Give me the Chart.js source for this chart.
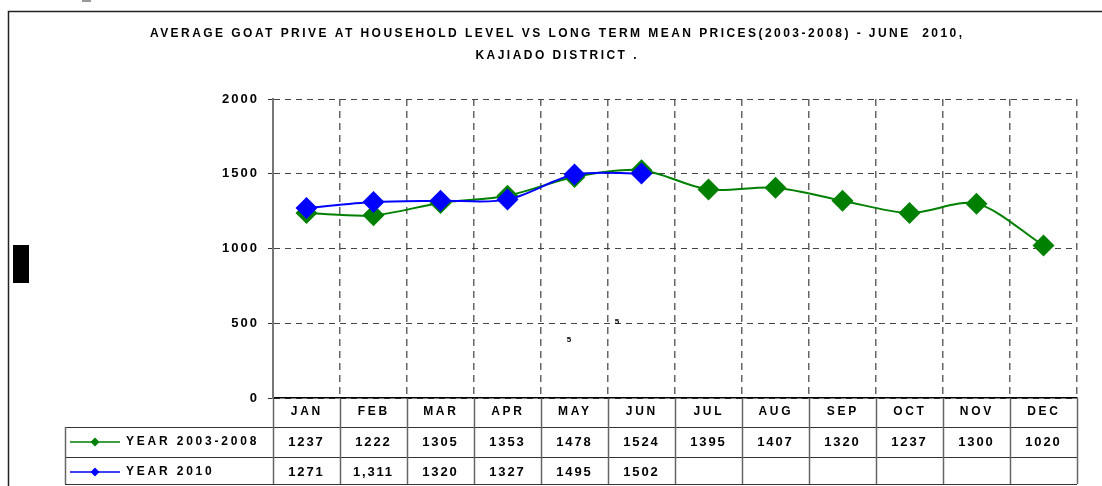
<!DOCTYPE html>
<html>
<head>
<meta charset="utf-8">
<title>Goat prices - Kajiado</title>
<script src="https://cdn.jsdelivr.net/npm/chart.js@4.4.0/dist/chart.umd.min.js"></script>
<style>
    html, body { margin: 0; padding: 0; background: #fff; }
    #wrap { width: 1102px; height: 486px; }
</style>
</head>
<body>
<div id="wrap"><canvas id="myChart" width="1102" height="486"></canvas></div>
<script>
const months = ['JAN', 'FEB', 'MAR', 'APR', 'MAY', 'JUN', 'JUL', 'AUG', 'SEP', 'OCT', 'NOV', 'DEC'];
const meanPrices = [1237, 1222, 1305, 1353, 1478, 1524, 1395, 1407, 1320, 1237, 1300, 1020];
const prices2010 = [1271, 1311, 1320, 1327, 1495, 1502, null, null, null, null, null, null];
// table text as printed in the source sheet
const meanLabels = ['1237', '1222', '1305', '1353', '1478', '1524', '1395', '1407', '1320', '1237', '1300', '1020'];
const labels2010 = ['1271', '1,311', '1320', '1327', '1495', '1502', '', '', '', '', '', ''];
const seriesNames = ['YEAR 2003-2008', 'YEAR 2010'];
const titleLines = [
    'AVERAGE GOAT PRIVE AT HOUSEHOLD LEVEL VS LONG TERM MEAN PRICES(2003-2008) - JUNE  2010,',
    'KAJIADO DISTRICT .'
];

const GREEN = '#008000';
const BLUE = '#0000ff';
const FONT = '"Liberation Sans", Arial, sans-serif';

function spacedText(ctx, text, x, y, spacing, align) {
    ctx.letterSpacing = spacing + 'px';
    const w = ctx.measureText(text).width - spacing;
    let sx = x;
    if (align === 'center') sx = x - w / 2;
    if (align === 'right') sx = x - w;
    ctx.textAlign = 'left';
    ctx.fillText(text, sx, y);
    ctx.letterSpacing = '0px';
}

function diamond(ctx, x, y, r, color) {
    ctx.fillStyle = color;
    ctx.beginPath();
    ctx.moveTo(x, y - r);
    ctx.lineTo(x + r, y);
    ctx.lineTo(x, y + r);
    ctx.lineTo(x - r, y);
    ctx.closePath();
    ctx.fill();
}

// frame, title and the bits of scan noise
const decorPlugin = {
    id: 'decor',
    beforeDraw(chart) {
        const ctx = chart.ctx;
        ctx.save();
        ctx.fillStyle = '#fff';
        ctx.fillRect(0, 0, chart.width, chart.height);
        ctx.strokeStyle = '#222';
        ctx.lineWidth = 1.5;
        ctx.strokeRect(8.5, 11.5, 1200, 600);
        ctx.fillStyle = '#999';
        ctx.fillRect(82, 0, 9, 2);
        ctx.fillStyle = '#000';
        ctx.fillRect(13, 245, 16, 38);

        ctx.fillStyle = '#000';
        ctx.font = 'bold 12px ' + FONT;
        ctx.textBaseline = 'middle';
        spacedText(ctx, titleLines[0], 556, 34, 2.45, 'center');
        spacedText(ctx, titleLines[1], 556, 56, 2.45, 'center');
        ctx.restore();
        // tick labels get the same wide spacing
        ctx.letterSpacing = '2px';
    },
    afterDraw(chart) {
        const ctx = chart.ctx;
        const x = chart.scales.x;
        const area = chart.chartArea;
        const colW = x.width / months.length;
        const rows = [area.bottom, 427, 457, 484];
        const tableLeft = 65;
        ctx.save();
        ctx.letterSpacing = '0px';

        // stray labels left over in the original sheet
        ctx.fillStyle = '#000';
        ctx.font = 'bold 8px ' + FONT;
        ctx.textAlign = 'center';
        ctx.textBaseline = 'middle';
        ctx.fillText('5', 569, 340);
        ctx.fillText('5', 617, 322);

        // table grid
        ctx.strokeStyle = '#333';
        ctx.lineWidth = 1;
        for (let r = 1; r < rows.length; r++) {
            ctx.beginPath();
            ctx.moveTo(tableLeft, rows[r] + 0.5);
            ctx.lineTo(area.right, rows[r] + 0.5);
            ctx.stroke();
        }
        ctx.strokeStyle = '#666';
        ctx.lineWidth = 1.5;
        ctx.beginPath();
        ctx.moveTo(tableLeft + 0.5, rows[1]);
        ctx.lineTo(tableLeft + 0.5, rows[3]);
        ctx.stroke();
        for (let i = 0; i <= months.length; i++) {
            const bx = Math.round(area.left + i * colW) + 0.5;
            ctx.beginPath();
            ctx.moveTo(bx, rows[0]);
            ctx.lineTo(bx, rows[3]);
            ctx.stroke();
        }

        // table text
        ctx.fillStyle = '#000';
        ctx.textBaseline = 'middle';
        months.forEach((m, i) => {
            const cx = x.getPixelForValue(i) - 1;
            ctx.font = 'bold 12px ' + FONT;
            spacedText(ctx, m, cx, 412, 2.7, 'center');
            ctx.font = 'bold 13px ' + FONT;
            spacedText(ctx, meanLabels[i], cx, 442, 1.8, 'center');
            if (labels2010[i]) spacedText(ctx, labels2010[i], cx, 472, 1.8, 'center');
        });

        // legend keys inside the table
        const keys = [[GREEN, 442], [BLUE, 472]];
        ctx.font = 'bold 12px ' + FONT;
        keys.forEach((k, i) => {
            ctx.strokeStyle = k[0];
            ctx.lineWidth = 1.5;
            ctx.beginPath();
            ctx.moveTo(70, k[1]);
            ctx.lineTo(120, k[1]);
            ctx.stroke();
            diamond(ctx, 95, k[1], 4.5, k[0]);
            ctx.fillStyle = '#000';
            spacedText(ctx, seriesNames[i], 126, k[1], 2.8, 'left');
        });
        ctx.restore();
    }
};

function createChart() {
    const ctx = document.getElementById('myChart').getContext('2d');
    return new Chart(ctx, {
        type: 'line',
        data: {
            labels: months,
            datasets: [{
                label: seriesNames[0],
                data: meanPrices,
                borderColor: GREEN,
                backgroundColor: GREEN,
                borderWidth: 2,
                pointStyle: 'rectRot',
                pointRadius: 11,
                pointBorderWidth: 0,
                tension: 0.3,
                order: 1
            }, {
                label: seriesNames[1],
                data: prices2010,
                borderColor: BLUE,
                backgroundColor: BLUE,
                borderWidth: 2,
                pointStyle: 'rectRot',
                pointRadius: 11,
                pointBorderWidth: 0,
                tension: 0.3,
                spanGaps: false,
                order: 0
            }]
        },
        options: {
            responsive: false,
            animation: false,
            layout: { padding: { top: 99, bottom: 88, right: 25, left: 0 } },
            plugins: {
                legend: { display: false },
                title: { display: false },
                tooltip: { enabled: false }
            },
            scales: {
                x: {
                    offset: true,
                    ticks: { display: false },
                    grid: {
                        offset: true,
                        color: '#666',
                        lineWidth: 1.5,
                        drawTicks: false
                    },
                    border: { color: '#000', width: 1.5, dash: [7, 5] },
                    afterFit: (s) => { s.height = 0; }
                },
                y: {
                    min: 0,
                    max: 2000,
                    ticks: {
                        stepSize: 500,
                        color: '#000',
                        padding: 9,
                        font: { family: FONT, size: 13, weight: 'bold' },
                        callback: (v) => String(v)
                    },
                    grid: {
                        color: '#444',
                        lineWidth: 1,
                        tickLength: 5,
                        tickBorderDash: [],
                        tickColor: '#333'
                    },
                    border: { color: '#777', width: 2, dash: [6, 5] },
                    afterFit: (s) => { s.width = 273; }
                }
            }
        },
        plugins: [decorPlugin]
    });
}

window.onload = () => {
    createChart();
};
</script>
</body>
</html>
